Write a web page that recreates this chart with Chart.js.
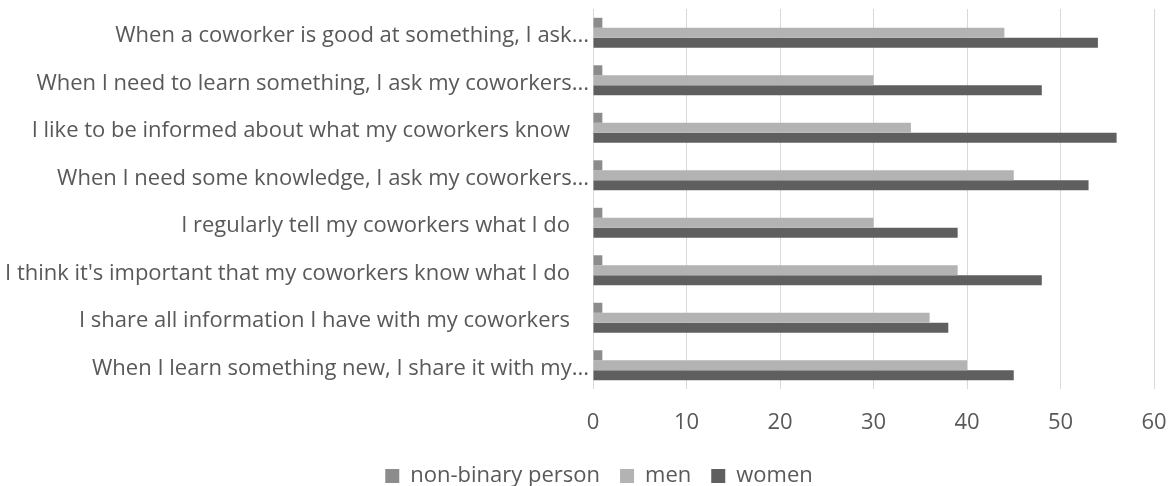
<!DOCTYPE html>
<html>
<head>
<meta charset="utf-8">
<script src="https://cdn.jsdelivr.net/npm/chart.js@4"></script>
<style>
  html, body { margin: 0; background: #fff; }
  #wrap { width: 1172px; height: 486px; }
</style>
</head>
<body>
<div id="wrap"><canvas id="chart"></canvas></div>
<script>
// --- data ---
const categories = [
  "When a coworker is good at something, I ask...",
  "When I need to learn something, I ask my coworkers...",
  "I like to be informed about what my coworkers know",
  "When I need some knowledge, I ask my coworkers...",
  "I regularly tell my coworkers what I do",
  "I think it's important that my coworkers know what I do",
  "I share all information I have with my coworkers",
  "When I learn something new, I share it with my..."
];
const seriesNames = ["non-binary person", "men", "women"];
const nonBinary = [1, 1, 1, 1, 1, 1, 1, 1];
const men = [44, 30, 34, 45, 30, 39, 36, 40];
const women = [54, 48, 56, 53, 39, 48, 38, 45];
const xTicks = [0, 10, 20, 30, 40, 50, 60];

// --- style ---
const FONT = "'Open Sans', sans-serif";
const TEXT = '#595959';
const GRID = '#d9d9d9';
const COLORS = ['#8c8c8c', '#b3b3b3', '#5f5f5f'];
const FS = 22;

// category labels drawn by hand so the truncated ones can sit closer to the axis
const yLabels = {
  id: 'yLabels',
  afterDraw(chart) {
    const { ctx, chartArea, scales: { y } } = chart;
    ctx.save();
    ctx.font = FS + 'px ' + FONT;
    ctx.fillStyle = TEXT;
    ctx.textAlign = 'right';
    ctx.textBaseline = 'middle';
    categories.forEach((label, i) => {
      const gap = label.endsWith('...') ? 4 : 23;
      ctx.fillText(label, chartArea.left - gap, y.getPixelForValue(i) + 3);
    });
    ctx.restore();
  }
};

new Chart(document.getElementById('chart'), {
  type: 'bar',
  data: {
    labels: categories,
    datasets: [nonBinary, men, women].map((d, i) => ({
      label: seriesNames[i],
      data: d,
      backgroundColor: COLORS[i],
      borderWidth: 0,
      barPercentage: 1,
      categoryPercentage: 0.63
    }))
  },
  options: {
    indexAxis: 'y',
    responsive: true,
    maintainAspectRatio: false,
    animation: false,
    // left padding shifts the legend's centre; the y axis width makes up the rest
    layout: { padding: { top: 9, right: 18, bottom: -11, left: 44 } },
    scales: {
      y: {
        ticks: { display: false },
        grid: { display: false },
        border: { display: false },
        afterFit: s => { s.width = 549; }
      },
      x: {
        min: 0, max: 60,
        afterBuildTicks: s => { s.ticks = xTicks.map(v => ({ value: v })); },
        ticks: { color: TEXT, font: { family: FONT, size: FS }, padding: 21 },
        grid: { color: GRID, drawTicks: false },
        border: { display: false },
        afterFit: s => { s.height = 56; s.paddingLeft = 0; s.paddingRight = 0; }
      }
    },
    plugins: {
      legend: {
        position: 'bottom',
        labels: {
          color: TEXT,
          font: { family: FONT, size: FS },
          boxWidth: 14, boxHeight: 14,
          padding: 20
        }
      },
      tooltip: { enabled: false }
    }
  },
  plugins: [yLabels]
});
</script>
</body>
</html>
